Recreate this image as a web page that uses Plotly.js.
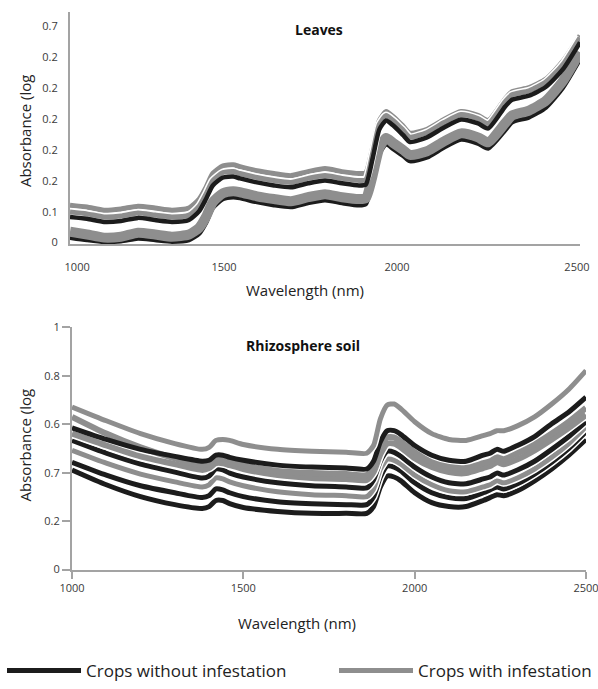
<!DOCTYPE html>
<html>
<head>
<meta charset="utf-8">
<script src="https://cdn.plot.ly/plotly-3.0.1.min.js"></script>
<style>
  html, body { margin: 0; padding: 0; background: #ffffff; }
  #chart { width: 598px; height: 689px; }
</style>
</head>
<body>
<div id="chart"></div>
<script>
// ---------- Data: Leaves (top panel) ----------
const wlLeaves = [1000,1050,1100,1150,1200,1250,1300,1350,1380,1400,1420,1450,1480,1500,1550,1600,1650,1700,1750,1800,1850,1870,1890,1910,1930,1950,1980,2000,2050,2100,2150,2200,2230,2280,2300,2350,2400,2450,2500];
const leafInfestedA = [0.121,0.115,0.105,0.109,0.118,0.112,0.105,0.112,0.141,0.179,0.224,0.249,0.252,0.246,0.233,0.224,0.217,0.230,0.240,0.230,0.224,0.227,0.307,0.396,0.425,0.409,0.377,0.355,0.367,0.399,0.425,0.412,0.396,0.466,0.489,0.502,0.530,0.588,0.671];
const leafInfestedB = [0.099,0.093,0.083,0.086,0.096,0.089,0.083,0.089,0.118,0.157,0.201,0.227,0.230,0.224,0.211,0.201,0.195,0.208,0.217,0.208,0.201,0.204,0.288,0.383,0.412,0.396,0.364,0.342,0.357,0.389,0.415,0.402,0.386,0.457,0.479,0.492,0.521,0.578,0.665];
const leafHealthyA = [0.083,0.077,0.067,0.070,0.080,0.073,0.067,0.073,0.102,0.141,0.185,0.211,0.214,0.208,0.195,0.185,0.179,0.192,0.201,0.192,0.185,0.188,0.272,0.367,0.396,0.380,0.348,0.326,0.341,0.373,0.399,0.386,0.370,0.441,0.463,0.476,0.505,0.562,0.649];
const leafInfestedC = [0.035,0.026,0.016,0.019,0.032,0.026,0.019,0.026,0.048,0.083,0.131,0.160,0.166,0.163,0.150,0.141,0.134,0.147,0.157,0.147,0.141,0.144,0.217,0.307,0.339,0.323,0.300,0.284,0.296,0.328,0.354,0.341,0.325,0.387,0.412,0.428,0.460,0.524,0.617];
const leafHealthyB = [0.016,0.008,0.002,0.004,0.013,0.008,0.003,0.008,0.029,0.064,0.112,0.141,0.147,0.144,0.131,0.121,0.115,0.128,0.137,0.128,0.121,0.125,0.198,0.288,0.319,0.304,0.281,0.264,0.276,0.308,0.334,0.321,0.305,0.364,0.390,0.406,0.438,0.502,0.594];

// ---------- Data: Rhizosphere soil (bottom panel) ----------
const wlSoil = [1000,1100,1200,1300,1380,1400,1420,1440,1460,1500,1600,1700,1800,1860,1880,1900,1920,1940,1960,2000,2050,2100,2150,2200,2220,2240,2260,2300,2350,2400,2450,2500];
const soilInfested1 = [0.671,0.614,0.561,0.520,0.496,0.504,0.533,0.537,0.533,0.516,0.496,0.488,0.484,0.480,0.512,0.622,0.679,0.683,0.663,0.610,0.561,0.537,0.533,0.553,0.561,0.573,0.573,0.593,0.630,0.683,0.744,0.821];
const soilInfested2 = [0.630,0.561,0.504,0.459,0.431,0.439,0.459,0.455,0.447,0.431,0.407,0.398,0.394,0.390,0.423,0.500,0.545,0.545,0.528,0.484,0.443,0.423,0.419,0.439,0.447,0.463,0.455,0.480,0.516,0.561,0.610,0.667];
const soilInfested3 = [0.561,0.512,0.467,0.435,0.411,0.419,0.439,0.439,0.431,0.415,0.390,0.378,0.374,0.370,0.402,0.476,0.520,0.520,0.504,0.459,0.423,0.402,0.398,0.419,0.427,0.443,0.435,0.455,0.492,0.537,0.585,0.638];
const soilInfested4 = [0.492,0.439,0.394,0.362,0.341,0.350,0.378,0.374,0.362,0.346,0.321,0.309,0.305,0.301,0.333,0.415,0.455,0.451,0.435,0.390,0.350,0.325,0.321,0.341,0.350,0.366,0.358,0.378,0.415,0.463,0.520,0.589];
const soilHealthy1 = [0.585,0.537,0.496,0.467,0.447,0.451,0.472,0.472,0.463,0.451,0.431,0.423,0.419,0.415,0.447,0.528,0.573,0.573,0.557,0.512,0.472,0.451,0.447,0.472,0.480,0.496,0.488,0.512,0.549,0.602,0.650,0.711];
const soilHealthy2 = [0.533,0.480,0.435,0.402,0.378,0.386,0.415,0.411,0.398,0.382,0.358,0.346,0.341,0.337,0.370,0.447,0.488,0.484,0.467,0.423,0.382,0.358,0.354,0.374,0.382,0.398,0.390,0.411,0.447,0.496,0.549,0.610];
const soilHealthy3 = [0.443,0.390,0.346,0.317,0.297,0.305,0.333,0.329,0.317,0.301,0.280,0.272,0.268,0.268,0.301,0.382,0.427,0.423,0.407,0.358,0.317,0.297,0.293,0.317,0.329,0.341,0.333,0.354,0.394,0.443,0.500,0.569];
const soilHealthy4 = [0.411,0.350,0.301,0.268,0.252,0.260,0.285,0.285,0.272,0.256,0.240,0.232,0.232,0.232,0.260,0.341,0.386,0.382,0.366,0.317,0.276,0.260,0.260,0.285,0.297,0.309,0.305,0.325,0.366,0.415,0.472,0.537];

// ---------- Tick labels ----------
const leafXTickVals = [1021, 1453, 1962, 2491];
const xTickText = ['1000', '1500', '2000', '2500'];
const soilXTickVals = [1000, 1500, 2000, 2500];
const leafYTickVals = [0, 0.1, 0.2, 0.3, 0.4, 0.5, 0.6, 0.7];
const leafYTickText = ['0', '0.1', '0.2', '0.2', '0.2', '0.2', '0.2', '0.7'];
const soilYTickVals = [0, 0.2, 0.4, 0.6, 0.8, 1];
const soilYTickText = ['0', '0.2', '0.7', '0.6', '0.8', '1'];

const NAME_HEALTHY = 'Crops without infestation';
const NAME_INFESTED = 'Crops with infestation';

// ---------- Styles ----------
const BLACK = '#1c1c1c';
const GRAY = '#8e8e8e';
const AXIS = '#a3a3a3';
const FONT = 'Open Sans, Noto Sans, sans-serif';

const traces = [];
function addLine(x, y, color, width, xa, ya, halo, legend) {
  if (halo) {
    traces.push({ x: x, y: y, xaxis: xa, yaxis: ya, type: 'scatter', mode: 'lines',
      line: { color: '#ffffff', width: width + 3, shape: 'spline', smoothing: 0.6 },
      hoverinfo: 'skip', showlegend: false });
  }
  const isBlack = color === BLACK;
  traces.push({ x: x, y: y, xaxis: xa, yaxis: ya, type: 'scatter', mode: 'lines',
    line: { color: color, width: width, shape: 'spline', smoothing: 0.6 },
    name: isBlack ? NAME_HEALTHY : NAME_INFESTED,
    legend: isBlack ? 'legend' : 'legend2',
    showlegend: !!legend, hoverinfo: 'skip' });
}

// Leaves
addLine(wlLeaves, leafInfestedA, GRAY, 5, 'x', 'y', true, false);
addLine(wlLeaves, leafHealthyB, BLACK, 4.5, 'x', 'y', true, false);
addLine(wlLeaves, leafInfestedC, GRAY, 10, 'x', 'y', false, false);
addLine(wlLeaves, leafInfestedB, GRAY, 5, 'x', 'y', true, false);
addLine(wlLeaves, leafHealthyA, BLACK, 4.5, 'x', 'y', false, false);

// Soil
addLine(wlSoil, soilHealthy4, BLACK, 5, 'x2', 'y2', true, false);
addLine(wlSoil, soilHealthy3, BLACK, 5, 'x2', 'y2', true, false);
addLine(wlSoil, soilInfested4, GRAY, 5, 'x2', 'y2', true, false);
addLine(wlSoil, soilHealthy2, BLACK, 5, 'x2', 'y2', true, false);
addLine(wlSoil, soilInfested3, GRAY, 6, 'x2', 'y2', true, false);
addLine(wlSoil, soilInfested2, GRAY, 6, 'x2', 'y2', false, false);
addLine(wlSoil, soilHealthy1, BLACK, 5, 'x2', 'y2', false, true);
addLine(wlSoil, soilInfested1, GRAY, 5, 'x2', 'y2', true, true);

const W = 598, H = 689;
function px(x) { return x / W; }
function py(y) { return 1 - y / H; }

const tickFont = { family: FONT, size: 11, color: '#3a3a3a' };
const titleFont = { family: FONT, size: 15, color: '#222222' };
const legendFont = { family: FONT, size: 17, color: '#222222' };

const layout = {
  width: W, height: H,
  margin: { l: 0, r: 0, t: 0, b: 0 },
  paper_bgcolor: '#ffffff', plot_bgcolor: '#ffffff',
  showlegend: true,
  hovermode: false,
  xaxis: {
    domain: [px(70), px(580)], range: [1000, 2500], anchor: 'y',
    showline: true, linecolor: AXIS, linewidth: 2, showgrid: false, zeroline: false,
    ticks: '', tickvals: leafXTickVals, ticktext: xTickText, tickfont: tickFont,
    ticklabelstandoff: 11, ticklabeloverflow: 'allow'
  },
  yaxis: {
    domain: [py(248), py(12)], range: [-0.006, 0.748], anchor: 'x',
    showline: true, linecolor: AXIS, linewidth: 2, showgrid: false, zeroline: false,
    ticks: '', tickvals: leafYTickVals, ticktext: leafYTickText, tickfont: tickFont,
    ticklabelstandoff: 8
  },
  xaxis2: {
    domain: [px(72), px(586)], range: [1000, 2500], anchor: 'y2',
    showline: true, linecolor: AXIS, linewidth: 2, showgrid: false, zeroline: false,
    ticks: 'outside', ticklen: 7, tickwidth: 2, tickcolor: AXIS,
    tickvals: soilXTickVals, ticktext: xTickText, tickfont: tickFont,
    ticklabeloverflow: 'allow'
  },
  yaxis2: {
    domain: [py(578), py(332)], range: [0, 1], anchor: 'x2',
    showline: true, linecolor: AXIS, linewidth: 2, showgrid: false, zeroline: false,
    ticks: 'outside', ticklen: 8, tickwidth: 2, tickcolor: AXIS,
    tickvals: soilYTickVals, ticktext: soilYTickText, tickfont: tickFont
  },
  legend: {
    orientation: 'h', x: px(2), xanchor: 'left', y: py(681), yanchor: 'middle',
    font: legendFont, bgcolor: 'rgba(0,0,0,0)', itemwidth: 74
  },
  legend2: {
    orientation: 'h', x: px(334), xanchor: 'left', y: py(681), yanchor: 'middle',
    font: legendFont, bgcolor: 'rgba(0,0,0,0)', itemwidth: 74
  },
  annotations: [
    { text: '<b>Leaves</b>', xref: 'paper', yref: 'paper', x: px(319), y: py(30),
      xanchor: 'center', yanchor: 'middle', showarrow: false,
      font: { family: FONT, size: 14, color: '#111111' } },
    { text: '<b>Rhizosphere soil</b>', xref: 'paper', yref: 'paper', x: px(303), y: py(351),
      xanchor: 'center', yanchor: 'middle', showarrow: false,
      font: { family: FONT, size: 14, color: '#111111' } },
    { text: 'Absorbance (log', xref: 'paper', yref: 'paper', x: px(25), y: py(133),
      xanchor: 'center', yanchor: 'middle', textangle: -90, showarrow: false, font: titleFont },
    { text: 'Absorbance (log', xref: 'paper', yref: 'paper', x: px(25), y: py(452),
      xanchor: 'center', yanchor: 'middle', textangle: -90, showarrow: false, font: titleFont },
    { text: 'Wavelength (nm)', xref: 'paper', yref: 'paper', x: px(305), y: py(294),
      xanchor: 'center', yanchor: 'middle', showarrow: false, font: titleFont },
    { text: 'Wavelength (nm)', xref: 'paper', yref: 'paper', x: px(297), y: py(632),
      xanchor: 'center', yanchor: 'middle', showarrow: false, font: titleFont }
  ]
};

Plotly.newPlot('chart', traces, layout, { staticPlot: true, displayModeBar: false });
</script>
</body>
</html>
